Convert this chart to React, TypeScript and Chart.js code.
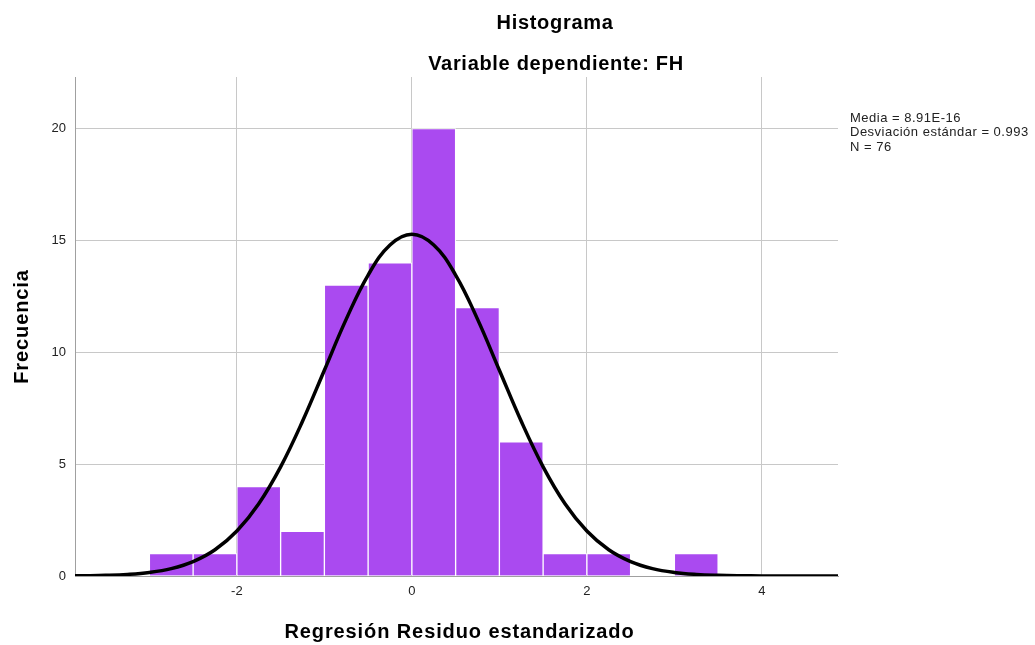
import React, { useEffect, useRef } from "react";
import { Chart, registerables } from "chart.js";

Chart.register(...registerables);

// Histogram bins (centres) and frequencies
const binCenters = [-2.75, -2.25, -1.75, -1.25, -0.75, -0.25, 0.25, 0.75, 1.25, 1.75, 2.25, 2.75, 3.25];
const frequencies = [1, 1, 4, 2, 13, 14, 20, 12, 6, 1, 1, 0, 1];

// Normal curve (x, frequency)
const curveX = [-3.85, -3.75, -3.5, -3.25, -3, -2.75, -2.5, -2.25, -2, -1.75, -1.5, -1.25, -1, -0.75, -0.5, -0.25, 0, 0.25, 0.5, 0.75, 1, 1.25, 1.5, 1.75, 2, 2.25, 2.5, 2.75, 3, 3.25, 3.5, 3.75, 4, 4.25, 4.5, 4.87];
const curveY = [0.008, 0.012, 0.031, 0.072, 0.159, 0.33, 0.642, 1.172, 2.01, 3.231, 4.879, 6.914, 9.196, 11.48, 13.45, 14.79, 15.27, 14.79, 13.45, 11.48, 9.196, 6.914, 4.879, 3.231, 2.01, 1.172, 0.642, 0.33, 0.159, 0.072, 0.031, 0.012, 0.005, 0.002, 0.001, 0.0];

const xTicks = [-2, 0, 2, 4];
const yTicks = [0, 5, 10, 15, 20];

const titleLines = ["Histograma", "Variable dependiente: FH"];
const statLines = ["Media = 8.91E-16", "Desviación estándar = 0.993", "N = 76"];
const xTitle = "Regresión Residuo estandarizado";
const yTitle = "Frecuencia";

const FONT = "'Liberation Sans', Arial, sans-serif";

export default function App() {
  const ref = useRef<HTMLCanvasElement>(null);

  useEffect(() => {
    document.body.style.margin = "0";
    const canvas = ref.current!;
    const textPlugin = {
      id: "textPlugin",
      afterDraw(chart: any) {
        const ctx = chart.ctx;
        const area = chart.chartArea;
        ctx.save();
        ctx.fillStyle = "#000";
        ctx.textAlign = "center";
        ctx.textBaseline = "alphabetic";
        ctx.font = `bold 20px ${FONT}`;
        (ctx as any).letterSpacing = "0.7px";
        ctx.fillText(titleLines[0], 555, 29);
        ctx.fillText(titleLines[1], 556, 70);
        (ctx as any).letterSpacing = "0.9px";
        ctx.fillText(xTitle, (area.left + area.right) / 2 + 3, 638);
        ctx.save();
        ctx.translate(28, (area.top + area.bottom) / 2);
        ctx.rotate(-Math.PI / 2);
        ctx.fillText(yTitle, 0, 0);
        ctx.restore();
        ctx.textAlign = "left";
        ctx.font = `13px ${FONT}`;
        (ctx as any).letterSpacing = "0.5px";
        ctx.fillStyle = "#222";
        statLines.forEach((t, i) => ctx.fillText(t, 850, 122 + i * 14.3));
        ctx.restore();
      },
    };

    const chart = new Chart(canvas, {
      type: "bar",
      data: {
        datasets: [
          {
            type: "line",
            data: curveX.map((x, i) => ({ x, y: curveY[i] })),
            borderColor: "#000",
            borderWidth: 3.5,
            pointRadius: 0,
            tension: 0.4,
            fill: false,
            order: 0,
          } as any,
          {
            type: "bar",
            data: binCenters.map((x, i) => ({ x, y: frequencies[i] })),
            backgroundColor: "#AA4AF0",
            borderColor: "#ffffff",
            borderWidth: 1,
            barPercentage: 1,
            categoryPercentage: 1,
            order: 1,
          } as any,
        ],
      },
      options: {
        animation: false,
        responsive: false,
        layout: { padding: { left: 0, top: 77, right: 197, bottom: 0 } },
        plugins: { legend: { display: false }, tooltip: { enabled: false } },
        scales: {
          x: {
            type: "linear",
            offset: false,
            min: -3.85,
            max: 4.87,
            afterBuildTicks: (s: any) => {
              s.ticks = xTicks.map((v) => ({ value: v }));
            },
            afterFit: (s: any) => {
              s.height = 69;
            },
            grid: { color: "#c8c8c8", drawTicks: false, lineWidth: 1, offset: false },
            border: { color: "#a0a0a0", width: 1 },
            ticks: { color: "#222", font: { family: FONT, size: 13 }, padding: 8 },
            title: { display: false },
          },
          y: {
            type: "linear",
            min: 0,
            max: 22.3,
            afterBuildTicks: (s: any) => {
              s.ticks = yTicks.map((v) => ({ value: v }));
            },
            afterFit: (s: any) => {
              s.width = 75;
            },
            grid: { color: "#c8c8c8", drawTicks: false, lineWidth: 1 },
            border: { color: "#a0a0a0", width: 1 },
            ticks: { color: "#222", font: { family: FONT, size: 13 }, padding: 9 },
            title: { display: false },
          },
        },
      },
      plugins: [textPlugin],
    } as any);
    return () => chart.destroy();
  }, []);

  return <canvas ref={ref} width={1035} height={645} style={{ display: "block" }} />;
}
